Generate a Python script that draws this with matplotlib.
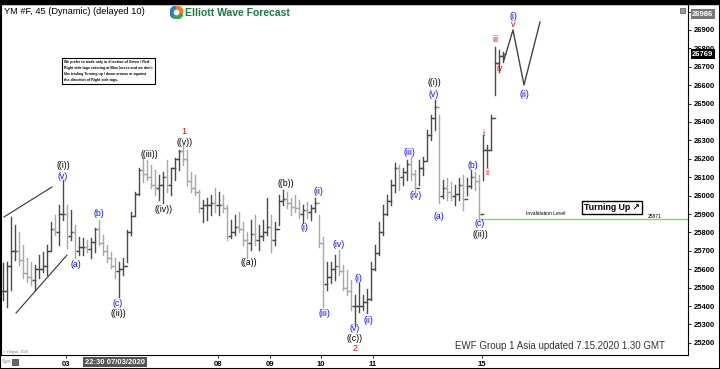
import matplotlib
matplotlib.use('Agg')
import matplotlib.pyplot as plt
from matplotlib.patches import Rectangle, Wedge
from matplotlib.transforms import blended_transform_factory

plt.rcParams['font.family'] = ['Liberation Sans', 'DejaVu Sans']

# 45 min bars, YM futures
highs = [25635, 25640, 25885, 25840, 25800, 25730, 25660, 25640, 25625, 25675,
         25695, 25730, 25855, 25895, 25950, 26085, 25950, 25920, 25840, 25775,
         25770, 25760, 25770, 25825, 25865, 25785, 25730, 25695, 25660, 25640,
         25660, 25815, 25910, 26020, 26150, 26205, 26195, 26165, 26140, 26110,
         26130, 26195, 26150, 26205, 26250, 26275, 26250, 26130, 26110, 26030,
         25975, 25985, 26005, 26040, 26020, 26005, 25950, 25865, 25895, 25910,
         25855, 25800, 25865, 25895, 25840, 25865, 25985, 25895, 25855, 26005,
         26030, 26020, 25985, 26005, 25975, 25950, 25965, 25950, 25985, 25895,
         25775, 25640, 25640, 25675, 25705, 25625, 25595, 25540, 25460, 25525,
         25460, 25490, 25640, 25730, 25855, 25950, 26005, 26085, 26175, 26165,
         26150, 26195, 26210, 26140, 26195, 26210, 26355, 26440, 26520, 26440,
         26085, 26095, 26075, 26060, 26095, 26110, 26095, 26140, 26130, 26110,
         26330, 26275, 26440, 26810, 26790, 26780]
lows = [25435, 25395, 25485, 25650, 25625, 25550, 25530, 25515, 25485, 25550,
        25585, 25570, 25705, 25785, 25730, 25865, 25715, 25760, 25660, 25675,
        25675, 25695, 25660, 25695, 25730, 25675, 25640, 25605, 25550, 25450,
        25570, 25640, 25785, 25895, 26005, 26075, 26085, 26040, 26005, 25975,
        25960, 26020, 26005, 26085, 26140, 26165, 26060, 26020, 26005, 25910,
        25855, 25865, 25895, 25910, 25895, 25910, 25760, 25770, 25785, 25800,
        25730, 25660, 25705, 25730, 25705, 25760, 25785, 25695, 25730, 25840,
        25950, 25935, 25895, 25910, 25880, 25855, 25880, 25865, 25910, 25720,
        25395, 25485, 25525, 25540, 25570, 25485, 25460, 25380, 25295, 25365,
        25380, 25360, 25435, 25595, 25675, 25785, 25895, 25950, 26020, 26030,
        26060, 26085, 26085, 26015, 26060, 26110, 26195, 26300, 26355, 25960,
        25985, 25975, 25975, 25950, 25975, 25920, 26005, 26040, 26030, 25870,
        26085, 26155, 26250, 26545, 26670, 26725]
closes = [25480, 25620, 25700, 25700, 25650, 25580, 25560, 25540, 25600, 25600,
          25620, 25700, 25820, 25800, 25900, 25900, 25780, 25800, 25700, 25720,
          25720, 25710, 25750, 25820, 25740, 25700, 25660, 25620, 25590, 25600,
          25620, 25800, 25890, 26010, 26140, 26120, 26100, 26060, 26040, 26060,
          26100, 26060, 26150, 26200, 26240, 26200, 26080, 26040, 26020, 25930,
          25950, 25950, 25960, 25950, 25950, 25930, 25780, 25800, 25830, 25820,
          25760, 25740, 25790, 25760, 25780, 25800, 25830, 25760, 25820, 25970,
          25980, 25960, 25940, 25930, 25900, 25920, 25910, 25930, 25960, 25740,
          25520, 25560, 25600, 25620, 25590, 25500, 25480, 25400, 25400, 25400,
          25420, 25440, 25600, 25690, 25800, 25900, 25970, 26060, 26150, 26100,
          26130, 26170, 26120, 26040, 26150, 26190, 26330, 26420, 26480, 26000,
          26040, 26020, 26000, 26010, 26060, 25980, 26050, 26100, 26080, 25900,
          26250, 26250, 26420, 26720, 26760, 26769]

day_labels = ['03', '08', '09', '10', '11', '15']
day_pos = [15.75, 53.75, 66.75, 79.5, 92.5, 119.75]
price_ticks = list(range(25200, 27001, 100))

# wave labels: text, bar position, price
black_labels = [('((i))', 15, 26166), ('((ii))', 28.75, 25362), ('((iii))', 36.5, 26221),
                ('((iv))', 40.25, 25922), ('((v))', 45.5, 26291), ('((a))', 61.5, 25634),
                ('((b))', 70.75, 26068), ('((c))', 88, 25226), ('((i))', 107.75, 26612),
                ('((ii))', 119.25, 25791)]
red_labels = [('1', 45.25, 26346), ('2', 88, 25172), ('i', 120, 26340), ('ii', 121, 26128),
              ('iii', 123, 26846), ('iv', 124.25, 26693), ('v', 127.5, 26927)]
blue_labels = [('(v)', 15, 26106), ('(a)', 18.25, 25628), ('(b)', 24, 25905), ('(c)', 28.75, 25416),
               ('(i)', 75.25, 25824), ('(ii)', 78.75, 26025), ('(iii)', 80.25, 25362),
               ('(iv)', 84, 25737), ('(v)', 88, 25280), ('(i)', 88.75, 25552),
               ('(ii)', 91.25, 25324), ('(iii)', 101.5, 26232), ('(iv)', 103.25, 26003),
               ('(v)', 107.75, 26547), ('(a)', 109, 25889), ('(b)', 117.5, 26166),
               ('(c)', 119.25, 25846), ('(i)', 127.5, 26971), ('(ii)', 130.25, 26552)]

wedge_up_x, wedge_up_y = [0.25, 12.25], [25884, 26047]
wedge_lo_x, wedge_lo_y = [3.25, 16], [25362, 25677]
proj_x = [125.25, 127.5, 130.25, 134.25]
proj_y = [26737, 26900, 26601, 26943]
invalidation = 25871
last_price = 26769
high_price = 26986

W, H = 720, 369
fig = plt.figure(figsize=(7.2, 3.69), dpi=100)
ax = fig.add_axes([1 / W, 14 / H, 687 / W, 351 / H])
ax.set_xlim(-0.5, 171.25)
ax.set_ylim(25134, 27041)

opens = [closes[0]] + closes[:-1]
for i, (h, l, o, c) in enumerate(zip(highs, lows, opens, closes)):
    col = '#4a4a4a' if c >= o else '#a8a8a8'
    ax.plot([i, i], [l, h], color=col, lw=1)
    ax.plot([i - 0.45, i], [o, o], color=col, lw=1)
    ax.plot([i, i + 0.45], [c, c], color=col, lw=1)

ax.plot(wedge_up_x, wedge_up_y, color='#333333', lw=0.8)
ax.plot(wedge_lo_x, wedge_lo_y, color='#333333', lw=0.8)
ax.plot(proj_x, proj_y, color='#444444', lw=1)
ax.plot([119.25, 171], [invalidation, invalidation], color='#80d080', lw=1)

for labels, col in [(black_labels, 'black'), (red_labels, '#d01010'), (blue_labels, '#1010e0')]:
    for t, x, y in labels:
        ax.text(x, y, t, color=col, fontsize=6.3, ha='center', va='center')

ax.text(130.75, 25905, 'Invalidation Level', fontsize=3.6, va='center')
ax.text(161.25, 25885, '25871', fontsize=3.6, va='center')
ax.text(152.25, 25935, 'Turning Up \u2197', fontsize=6.3, fontweight='bold', ha='center', va='center',
        bbox=dict(boxstyle='square,pad=0.25', fc='white', ec='black', lw=1))

ax.yaxis.tick_right()
ax.set_yticks(price_ticks)
ax.set_yticklabels([str(p) for p in price_ticks], fontsize=5.5, fontweight='bold')
ax.tick_params(axis='y', length=2, pad=2, width=0.6)
ax.set_xticks(day_pos)
ax.set_xticklabels(day_labels, fontsize=5.5, fontweight='bold')
ax.tick_params(axis='x', length=2, pad=2, width=0.6)
for s in ax.spines.values():
    s.set_linewidth(0.8)
    s.set_color('black')

tr = blended_transform_factory(ax.transAxes, ax.transData)
ax.text(1.006, high_price, str(high_price), transform=tr, fontsize=5.5, fontweight='bold', color='white',
        va='center', bbox=dict(boxstyle='square,pad=0.2', fc='#777777', ec='none'))
ax.text(1.006, last_price, str(last_price), transform=tr, fontsize=5.5, fontweight='bold', color='white',
        va='center', bbox=dict(boxstyle='square,pad=0.2', fc='black', ec='none'))
ax.text(28, -0.021, '22:30 07/03/2020', transform=blended_transform_factory(ax.transData, ax.transAxes),
        fontsize=5.5, fontweight='bold', color='white', ha='center', va='center',
        bbox=dict(boxstyle='square,pad=0.2', fc='#555555', ec='none'))

fig.text(4 / W, 1 - 12 / H, 'YM #F, 45 (Dynamic) (delayed 10)', fontsize=6.7, va='center')
fig.text(185 / W, 1 - 13 / H, 'Elliott Wave Forecast', fontsize=7.5, fontweight='bold',
         color='#1d7a3e', va='center')
fig.text(64 / W, 1 - 71 / H,
         "We prefer to trade only in direction of Green / Red\n"
         "Right side tags entering at Blue boxes and we don't\n"
         "like trading Turning up / down arrows or against\n"
         "the direction of Right side tags.",
         fontsize=2.6, fontweight='bold', va='center', linespacing=1.6,
         bbox=dict(boxstyle='square,pad=0.6', fc='white', ec='black', lw=0.8))
fig.text(455 / W, 1 - 346 / H, 'EWF Group 1 Asia updated 7.15.2020 1.30 GMT', fontsize=7,
         color='#333333', va='center')
fig.text(3 / W, 1 - 352 / H, '\u00a9 eSignal, 2020', fontsize=2.5, color='#777777', va='center')
fig.text(2 / W, 1 - 362 / H, 'Syn', fontsize=4, color='#888888', va='center')

logo = fig.add_axes([170 / W, 1 - 19 / H, 13 / W, 13 / H])
logo.set_xlim(-1, 1)
logo.set_ylim(-1, 1)
logo.axis('off')
logo.add_patch(Wedge((0, 0), 1, 100, 230, width=0.45, color='#2b78c8'))
logo.add_patch(Wedge((0, 0), 1, 240, 350, width=0.45, color='#3ea34c'))
logo.add_patch(Wedge((0, 0), 1, -5, 90, width=0.45, color='#ee7d22'))

fig.add_artist(Rectangle((680 / W, 1 - 13 / H), 5 / W, 5 / H, transform=fig.transFigure,
                         fc='#999999', ec='#555555', lw=0.5))
fig.add_artist(Rectangle((12 / W, 1 - 365 / H), 6 / W, 6 / H, transform=fig.transFigure,
                         fc='#666666', ec='#333333', lw=0.5))
fig.add_artist(Rectangle((0, 1 - 4 / H), 1, 4 / H, transform=fig.transFigure, color='black'))
fig.add_artist(Rectangle((0, 0), 1, 1, transform=fig.transFigure, fill=False, ec='black', lw=1.5))

plt.savefig('out.png', dpi=100)
